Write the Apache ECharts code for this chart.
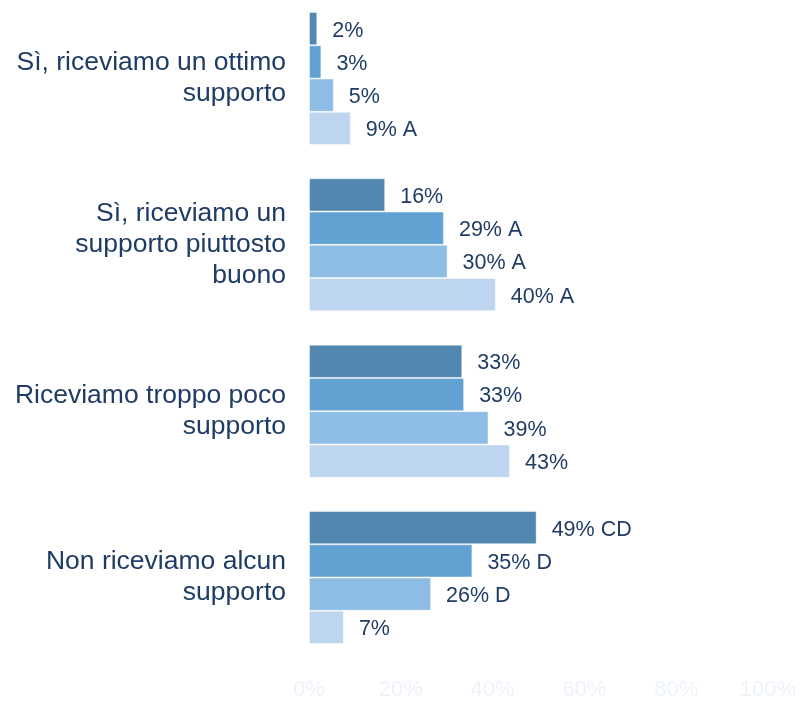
<!DOCTYPE html>
<html>
<head>
<meta charset="utf-8">
<script src="https://cdn.jsdelivr.net/npm/echarts@6/dist/echarts.min.js"></script>
<style>
html,body{margin:0;padding:0;background:#fff;}
#chart{width:808px;height:701px;}
</style>
</head>
<body>
<div id="chart"></div>
<script>
const categories = [
  'Sì, riceviamo un ottimo\nsupporto',
  'Sì, riceviamo un\nsupporto piuttosto\nbuono',
  'Riceviamo troppo poco\nsupporto',
  'Non riceviamo alcun\nsupporto'
];
const seriesNames = ['A', 'B', 'C', 'D'];
const valuesA = [1.8, 16.6, 33.4, 49.6];
const valuesB = [2.7, 29.4, 33.8, 35.6];
const valuesC = [5.4, 30.2, 39.1, 26.6];
const valuesD = [9.1, 40.7, 43.8, 7.6];
const labelsA = ['2%', '16%', '33%', '49% CD'];
const labelsB = ['3%', '29% A', '33%', '35% D'];
const labelsC = ['5%', '30% A', '39%', '26% D'];
const labelsD = ['9% A', '40% A', '43%', '7%'];
const xTicks = [0, 20, 40, 60, 80, 100];

const colors = ['#5287b0', '#62a2d3', '#8dbce5', '#bed5ef'];
const font = '"Liberation Sans", Arial, sans-serif';
const textColor = '#1f3c64';

const allValues = [valuesA, valuesB, valuesC, valuesD];
const allLabels = [labelsA, labelsB, labelsC, labelsD];

const chart = echarts.init(document.getElementById('chart'));
chart.setOption({
  animation: false,
  backgroundColor: '#ffffff',
  grid: { left: 309, right: 40, top: 78.5, bottom: 122.5, containLabel: false },
  xAxis: {
    type: 'value',
    min: xTicks[0],
    max: xTicks[xTicks.length - 1],
    interval: xTicks[1] - xTicks[0],
    offset: 83.5,
    axisLine: { show: false },
    axisTick: { show: false },
    splitLine: { show: false },
    axisLabel: {
      formatter: '{value}%',
      color: '#eef3fa',
      fontSize: 22,
      fontFamily: font,
      margin: 18
    }
  },
  yAxis: {
    type: 'category',
    data: categories,
    inverse: true,
    boundaryGap: false,
    axisLine: { show: false },
    axisTick: { show: false },
    splitLine: { show: false },
    axisLabel: {
      color: textColor,
      fontSize: 26.5,
      lineHeight: 31,
      fontFamily: font,
      align: 'right',
      padding: [4, 0, 0, 0],
      margin: 23
    }
  },
  series: allValues.map((vals, si) => ({
    name: seriesNames[si],
    type: 'bar',
    data: vals,
    barGap: '0%',
    barCategoryGap: '20%',
    itemStyle: { color: colors[si], borderColor: 'rgba(255,255,255,0.45)', borderWidth: 1 },
    label: {
      show: true,
      position: 'right',
      distance: 15,
      offset: [0, 2],
      color: textColor,
      fontSize: 21.5,
      fontFamily: font,
      formatter: p => allLabels[si][p.dataIndex]
    }
  }))
});
</script>
</body>
</html>
